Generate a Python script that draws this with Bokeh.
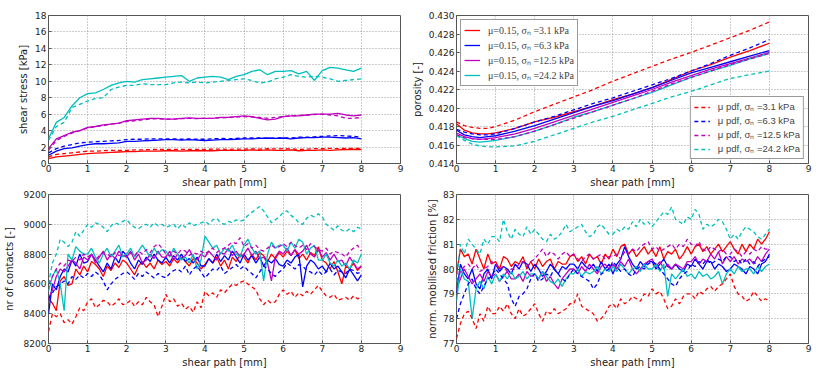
import numpy as np
from bokeh.plotting import figure
from bokeh.models import Range1d, SingleIntervalTicker, PrintfTickFormatter, Legend, LegendItem
from bokeh.layouts import gridplot
from bokeh.embed import file_html
from bokeh.resources import INLINE

# ---------------- data ----------------
sigma_labels = ["3.1", "6.3", "12.5", "24.2"]
colors = ["#ff0000", "#0000ff", "#bf00bf", "#00bfbf"]

x_stress = np.round(np.arange(0, 8.01, 0.2), 1)
stress_r = [0.6,0.8,0.9,1.0,1.1,1.2,1.25,1.3,1.35,1.4, 1.45,1.45,1.5,1.5,1.5,1.55,1.55,1.5,1.55,1.55,
            1.55,1.55,1.6,1.6,1.6,1.6,1.65,1.6,1.65,1.6, 1.6,1.65,1.55,1.6,1.6,1.65,1.6,1.65,1.7,1.7, 1.7]
stress_b = [1.0,1.5,1.8,1.9,2.1,2.3,2.4,2.4,2.45,2.5, 2.7,2.7,2.75,2.8,2.85,2.9,2.9,2.85,2.9,2.85,
            2.8,2.85,2.9,2.9,2.95,3.0,3.0,3.05,3.1,3.05, 3.1,3.0,3.1,3.15,3.15,3.2,3.2,3.15,3.1,3.15, 3.0]
stress_m = [1.8,3.0,3.4,3.8,4.0,4.4,4.5,4.7,4.8,4.9, 5.2,5.3,5.4,5.5,5.5,5.4,5.4,5.5,5.55,5.5,
            5.5,5.5,5.6,5.6,5.7,5.8,5.7,5.5,5.3,5.4, 5.7,5.8,5.8,5.9,6.0,6.0,6.0,6.1,5.9,5.8, 5.9]
stress_c = [3.0,5.0,5.6,7.0,8.0,8.5,8.6,9.0,9.5,9.8, 10.0,9.9,10.2,10.3,10.4,10.5,10.6,10.7,10.0,10.4,
            10.5,10.6,10.5,10.2,10.6,10.8,11.2,11.4,10.8,11.2, 11.2,11.3,10.9,11.2,10.1,11.3,11.7,11.6,11.4,11.2, 11.6]
stress_r_pdf = [0.8,1.1,1.2,1.3,1.4,1.5,1.5,1.55,1.6,1.6, 1.6,1.65,1.65,1.7,1.7,1.7,1.7,1.7,1.72,1.7,
                1.72,1.75,1.75,1.72,1.75,1.75,1.78,1.75,1.8,1.78, 1.8,1.78,1.7,1.75,1.8,1.8,1.85,1.8,1.85,1.85, 1.85]
stress_b_pdf = [1.3,1.8,2.1,2.3,2.5,2.6,2.65,2.7,2.75,2.8, 2.9,2.95,2.95,3.0,3.0,3.0,3.0,2.95,3.0,2.95,
                2.95,3.0,3.05,3.0,3.05,3.1,3.1,3.1,3.05,3.1, 3.1,3.1,3.2,3.2,3.25,3.3,3.35,3.4,3.35,3.3, 3.2]
stress_m_pdf = [1.6,2.8,3.3,3.7,4.0,4.3,4.5,4.6,4.8,4.9, 5.1,5.2,5.3,5.4,5.45,5.4,5.4,5.45,5.5,5.45,
                5.5,5.5,5.55,5.6,5.65,5.7,5.65,5.6,5.5,5.6, 5.7,5.8,5.85,5.9,5.95,6.0,5.9,5.8,5.5,5.5, 5.6]
stress_c_pdf = [2.8,4.5,5.0,6.8,7.2,7.6,7.9,8.0,9.0,9.3, 9.5,9.5,9.7,9.6,9.6,9.6,9.8,9.9,9.8,9.9,
                9.8,9.9,10.0,10.1,10.2,10.3,10.1,9.8,9.9,10.3, 10.5,10.8,10.6,10.5,10.6,10.5,10.3,10.0,10.1,10.2, 10.3]

x_por = [0, 0.2, 0.4, 0.6, 0.8, 1.0, 1.5, 2, 2.5, 3, 3.5, 4, 4.5, 5, 5.5, 6, 6.5, 7, 7.5, 8]
por_r = [0.4183,0.4176,0.4173,0.4172,0.4172,0.4173,0.4178,0.4185,0.4190,0.4196,0.4202,0.4209,0.4215,0.4222,0.4231,0.4240,0.4247,0.4255,0.4262,0.4270]
por_b = [0.4176,0.4171,0.4169,0.4168,0.4169,0.4170,0.4175,0.4181,0.4188,0.4195,0.4202,0.4208,0.4215,0.4222,0.4230,0.4238,0.4244,0.4250,0.4256,0.4262]
por_m = [0.4173,0.4169,0.4167,0.4166,0.4167,0.4168,0.4172,0.4178,0.4185,0.4192,0.4199,0.4206,0.4213,0.4220,0.4228,0.4235,0.4242,0.4248,0.4254,0.4260]
por_c = [0.4171,0.4167,0.4164,0.4163,0.4164,0.4165,0.4169,0.4175,0.4182,0.4190,0.4196,0.4203,0.4210,0.4217,0.4225,0.4233,0.4240,0.4246,0.4253,0.4259]
por_r_pdf = [0.4185,0.4181,0.4179,0.4178,0.4178,0.4180,0.4187,0.4196,0.4204,0.4212,0.4220,0.4229,0.4237,0.4245,0.4253,0.4260,0.4268,0.4276,0.4284,0.4293]
por_b_pdf = [0.4177,0.4174,0.4172,0.4171,0.4171,0.4172,0.4178,0.4185,0.4191,0.4198,0.4205,0.4211,0.4218,0.4225,0.4232,0.4240,0.4248,0.4257,0.4265,0.4274]
por_m_pdf = [0.4171,0.4168,0.4167,0.4166,0.4166,0.4166,0.4169,0.4175,0.4182,0.4189,0.4196,0.4203,0.4210,0.4218,0.4226,0.4233,0.4240,0.4247,0.4253,0.4259]
por_c_pdf = [0.4170,0.4165,0.4161,0.4159,0.4158,0.4158,0.4159,0.4164,0.4171,0.4178,0.4185,0.4191,0.4198,0.4205,0.4212,0.4218,0.4225,0.4232,0.4236,0.4240]

x_noisy = np.round(np.arange(0, 8.01, 0.1), 1)
cont_r = [8500,8470,8420,8620,8650,8590,8600,8700,8660,8720, 8680,8750,8730,8700,8650,8720,8690,8740,8710,8760,
          8740,8700,8660,8720,8750,8710,8740,8700,8760,8730, 8750,8720,8770,8740,8780,8750,8720,8770,8740,8700,
          8730,8770,8740,8780,8720,8760,8700,8780,8750,8800, 8780,8740,8800,8760,8810,8790,8750,8800,8770,8810,
          8780,8820,8790,8830,8770,8800,8760,8810,8790,8850, 8760,8740,8700,8750,8680,8600,8720,8700,8740,8690, 8720]
cont_b = [8400,8600,8560,8650,8700,8680,8760,8720,8800,8740, 8750,8800,8760,8720,8680,8740,8700,8780,8740,8820,
          8790,8740,8700,8760,8730,8780,8750,8800,8760,8740, 8780,8740,8790,8760,8800,8750,8770,8740,8780,8720,
          8720,8770,8740,8800,8750,8790,8760,8820,8780,8740, 8800,8760,8790,8740,8780,8720,8760,8740,8770,8730,
          8720,8760,8740,8780,8800,8580,8720,8760,8740,8700, 8720,8680,8740,8700,8720,8680,8640,8700,8660,8620, 8660]
cont_m = [8500,8560,8650,8700,8680,8720,8760,8740,8700,8780, 8760,8800,8740,8780,8820,8760,8800,8770,8820,8790,
          8780,8820,8760,8800,8740,8760,8800,8770,8820,8780, 8780,8820,8760,8800,8770,8790,8830,8780,8760,8800,
          8780,8820,8790,8760,8810,8800,8840,8790,8820,8780, 8800,8840,8790,8820,8770,8780,8740,8620,8780,8820,
          8800,8840,8790,8830,8800,8820,8860,8800,8780,8830, 8780,8810,8760,8800,8750,8760,8720,8780,8740,8700, 8720]
cont_c = [8550,8650,8700,8600,8420,8800,8760,8850,8820,8800, 8800,8840,8780,8740,8800,8840,8780,8820,8860,8780,
          8800,8840,8780,8820,8860,8820,8780,8840,8800,8830, 8820,8780,8840,8800,8760,8780,8740,8800,8700,8760,
          8920,8880,8840,8860,8800,8840,8820,8860,8800,8780, 8860,8900,8840,8800,8820,8620,8800,8880,8840,8860,
          8860,8820,8880,8840,8900,8880,8800,8840,8860,8760, 8760,8800,8740,8720,8760,8720,8740,8700,8760,8740, 8800]
cont_r_pdf = [8280,8400,8380,8400,8340,8360,8330,8380,8440,8420, 8480,8500,8440,8460,8490,8480,8450,8470,8500,8460,
              8470,8490,8450,8480,8460,8510,8480,8460,8380,8450, 8530,8480,8500,8450,8470,8430,8450,8410,8480,8440,
              8550,8520,8540,8510,8560,8540,8570,8600,8590,8610, 8620,8600,8580,8560,8500,8460,8490,8470,8480,8530,
              8560,8530,8550,8510,8540,8520,8550,8530,8560,8590, 8550,8520,8510,8530,8490,8500,8510,8490,8520,8500, 8510]
cont_b_pdf = [8500,8540,8580,8600,8620,8600,8650,8630,8660,8640, 8670,8650,8680,8660,8620,8560,8600,8630,8650,8670,
              8680,8660,8630,8670,8650,8680,8660,8640,8670,8650, 8640,8670,8690,8700,8680,8720,8660,8700,8720,8680,
              8640,8670,8700,8690,8720,8670,8690,8710,8730,8700, 8720,8690,8670,8640,8680,8720,8700,8670,8650,8680,
              8700,8740,8720,8700,8730,8720,8690,8680,8660,8690, 8660,8680,8700,8660,8690,8680,8670,8700,8690,8670, 8680]
cont_m_pdf = [8600,8650,8700,8740,8720,8760,8750,8780,8760,8800, 8780,8800,8760,8790,8810,8800,8780,8810,8790,8800,
              8780,8810,8790,8820,8800,8830,8810,8850,8870,8840, 8800,8790,8820,8800,8830,8820,8790,8810,8800,8820,
              8800,8820,8840,8810,8830,8840,8860,8880,8870,8910, 8850,8870,8840,8860,8830,8820,8840,8860,8840,8850,
              8870,8850,8880,8860,8840,8860,8830,8870,8850,8830, 8820,8840,8800,8820,8810,8800,8780,8820,8840,8860, 8820]
cont_c_pdf = [8600,8740,8800,8900,8880,8850,8880,8950,8920,8960, 9000,8980,9010,9000,8980,8950,8990,9010,9000,9020,
              9030,9000,8980,8970,8990,9000,8980,9010,8990,9000, 8980,8990,9000,8970,9000,8980,9010,8990,9000,9010,
              9020,9000,9030,9040,9010,9000,9020,9010,9030,9020, 9030,9060,9080,9100,9120,9090,9050,9010,9030,9050,
              9080,9090,9060,9040,9010,9000,9040,9060,9050,9070, 9050,9000,8980,8960,8990,8960,8950,8970,8950,8980, 8970]

fric_r = [79.8,80.8,80.5,80.6,80.2,80.8,80.4,80.0,80.6,80.2, 80.3,80.0,80.5,80.4,80.1,80.3,80.2,80.5,80.0,80.3,
          80.0,80.4,80.1,80.3,80.4,80.0,80.3,80.2,80.2,80.5, 80.6,80.3,80.5,80.2,80.6,80.4,80.5,80.2,80.6,80.4,
          80.8,80.5,80.9,81.0,80.6,80.8,80.5,80.7,80.9,80.6, 80.8,80.5,80.9,80.4,80.7,80.6,80.8,80.4,80.6,80.9,
          80.6,80.9,81.0,80.7,80.9,80.6,80.8,81.0,80.7,80.9, 81.1,80.8,80.6,81.0,80.7,81.0,80.8,81.2,81.0,81.2, 81.5]
fric_b = [79.0,80.2,79.8,79.6,80.0,79.4,79.2,79.8,80.0,79.6, 80.2,79.9,80.1,80.0,79.8,80.2,80.0,80.3,80.2,79.9,
          80.2,80.0,79.7,79.9,80.2,80.0,79.8,80.1,80.0,80.2, 80.2,80.0,80.3,80.1,80.0,80.2,79.9,80.3,80.0,80.2,
          79.8,80.2,80.4,80.9,80.5,80.2,80.0,80.3,80.1,80.3, 80.3,80.0,80.2,80.4,80.1,80.0,80.2,80.0,79.9,80.2,
          80.1,80.4,80.2,80.0,80.3,80.3,80.0,80.2,80.1,79.9, 80.0,80.2,80.1,80.0,79.8,80.1,80.0,79.8,80.2,80.3, 80.6]
fric_m = [79.2,79.6,80.0,79.7,79.4,79.6,79.8,79.5,79.9,79.7, 79.8,79.5,79.7,79.9,79.6,79.6,79.8,79.5,79.9,79.7,
          79.8,79.6,79.9,79.5,79.7,79.4,79.2,79.6,79.8,80.0, 80.0,79.8,80.1,79.9,80.2,80.0,79.8,80.1,80.2,80.0,
          80.2,80.0,80.3,80.1,80.4,80.0,79.8,80.0,80.2,80.3, 80.4,80.1,80.3,80.0,80.2,80.0,80.2,80.1,80.0,80.3,
          80.3,80.5,80.2,80.4,80.3,80.6,80.4,80.7,80.2,80.5, 80.3,80.5,80.2,80.4,80.3,80.4,80.2,80.5,80.3,80.6, 80.8]
fric_c = [78.7,80.0,79.6,79.5,78.0,79.2,79.5,79.2,79.7,79.4, 79.8,79.5,79.8,79.6,79.9,79.6,79.7,79.9,79.6,79.8,
          79.8,79.6,79.9,79.7,79.5,79.4,79.6,79.3,79.6,79.8, 79.8,80.0,79.7,79.9,79.8,79.9,80.1,79.8,80.0,79.9,
          80.1,79.9,80.2,80.0,79.8,80.0,80.1,79.9,80.2,80.0, 80.0,80.2,79.9,80.2,78.9,79.8,79.6,79.8,80.0,79.7,
          79.8,79.6,79.9,79.7,79.8,79.6,79.7,79.9,79.4,79.8, 80.0,79.8,80.1,79.9,80.0,80.0,79.8,80.1,79.9,80.1, 80.2]
fric_r_pdf = [77.2,77.8,78.2,78.3,78.0,77.6,78.2,77.9,78.5,78.2, 78.2,78.5,78.3,78.6,78.2,78.0,78.4,78.1,78.2,78.4,
              78.6,78.2,77.9,78.3,78.2,78.4,78.2,78.3,78.4,78.6, 78.6,79.0,78.5,78.4,78.3,78.2,77.9,78.0,78.2,78.5,
              78.6,78.4,78.8,78.6,78.7,78.9,78.8,78.7,79.0,78.9, 79.2,79.0,79.1,78.8,78.4,78.5,78.8,78.6,78.9,79.0,
              79.0,78.8,79.1,79.0,79.2,79.3,79.1,79.3,79.4,79.6, 79.8,79.3,79.0,78.9,78.7,78.8,79.1,78.9,78.7,78.8, 78.7]
fric_b_pdf = [78.0,78.6,79.0,79.4,79.6,79.2,79.0,79.3,79.6,79.7, 80.0,79.8,79.6,79.4,78.8,78.5,78.9,79.0,79.2,79.6,
              79.8,79.5,79.6,79.8,79.7,80.0,79.8,79.6,79.5,79.8, 80.0,79.8,79.7,79.6,79.5,79.2,79.4,79.8,79.9,80.0,
              80.3,80.1,79.9,80.0,79.8,79.7,80.0,80.1,80.0,80.2, 80.3,80.2,80.0,79.8,79.6,79.4,79.3,79.6,79.8,79.9,
              80.2,80.1,80.3,80.2,80.4,80.2,80.3,80.4,80.3,80.5, 80.5,80.3,80.4,80.2,80.4,80.2,80.3,80.1,80.3,80.4, 80.5]
fric_m_pdf = [79.5,79.9,80.1,80.2,80.0,80.2,79.9,80.0,80.1,80.3, 80.2,80.0,80.1,79.9,80.0,80.0,80.2,80.3,80.1,80.3,
              80.4,80.6,80.8,80.5,80.7,80.6,80.4,80.6,80.7,80.5, 80.6,80.4,80.3,80.5,80.6,80.4,80.5,80.6,80.4,80.5,
              80.5,80.6,80.4,80.7,80.6,80.8,80.7,80.9,81.0,81.1, 80.8,80.9,80.7,80.8,80.9,81.0,80.8,81.0,80.9,81.2,
              81.0,80.9,81.1,80.8,80.7,80.9,80.8,80.7,80.8,80.6, 80.6,80.8,80.7,80.5,80.7,80.6,80.8,80.7,80.9,80.8, 80.8]
fric_c_pdf = [79.5,81.0,80.6,81.2,81.0,80.8,80.6,81.2,81.0,81.3, 81.3,81.1,82.0,81.5,81.2,81.6,81.4,81.3,81.7,81.4,
              81.6,81.4,81.2,81.1,81.4,81.2,81.3,81.5,81.8,81.5, 81.6,81.7,81.8,81.5,81.3,81.4,81.7,81.8,81.6,81.4,
              81.4,81.6,81.5,81.7,81.6,81.9,81.7,82.0,81.8,81.9, 81.7,81.9,82.1,82.3,82.2,82.5,82.0,81.9,81.8,82.1,
              82.0,82.4,82.2,81.6,81.8,81.7,81.8,82.0,81.9,81.6, 81.2,81.4,81.2,81.5,81.7,81.6,81.5,81.3,81.2,81.4, 81.6]

# ---------------- styling helpers ----------------
FONT = "DejaVu Sans"
DASH = "4 3"
LW = 1.3


def make_fig(width, height, yr, yint, ylabel, border, label_standoff, fmt=None):
    left, right, top, bottom = border
    p = figure(width=width, height=height, x_range=Range1d(0, 9), y_range=Range1d(*yr),
               output_backend="svg", toolbar_location=None,
               min_border_left=left, min_border_right=right,
               min_border_top=top, min_border_bottom=bottom)
    p.background_fill_color = "white"
    p.border_fill_color = "white"
    p.outline_line_color = "#555555"
    p.outline_line_width = 1
    p.xaxis.ticker = SingleIntervalTicker(interval=1, num_minor_ticks=0)
    p.yaxis.ticker = SingleIntervalTicker(interval=yint, num_minor_ticks=0)
    if fmt:
        p.yaxis.formatter = PrintfTickFormatter(format=fmt)
    p.xaxis.axis_label = "shear path [mm]"
    p.yaxis.axis_label = ylabel
    for ax in (p.xaxis[0], p.yaxis[0]):
        ax.axis_line_color = None
        ax.major_tick_in = 3
        ax.major_tick_out = 0
        ax.major_tick_line_color = "#555555"
        ax.minor_tick_line_color = None
        ax.major_label_text_font = FONT
        ax.major_label_text_font_size = "9px"
        ax.major_label_text_color = "#222222"
        ax.axis_label_text_font = FONT
        ax.axis_label_text_font_size = "10px"
        ax.axis_label_text_font_style = "normal"
        ax.axis_label_text_color = "#222222"
        ax.major_label_standoff = 1
    p.xaxis.axis_label_standoff = 2
    p.yaxis.axis_label_standoff = label_standoff
    p.yaxis.major_label_standoff = 2
    for g in (p.xgrid[0], p.ygrid[0]):
        g.grid_line_color = "#999999"
        g.grid_line_dash = "1 2"
        g.grid_line_width = 1
    return p


def add_series(p, x, solid, dashed):
    rs, rd = [], []
    for ys, c in zip(solid, colors):
        rs.append(p.line(x, ys, line_color=c, line_width=LW))
    for ys, c in zip(dashed, colors):
        rd.append(p.line(x, ys, line_color=c, line_width=LW, line_dash=DASH))
    return rs, rd


# top-left: shear stress
p1 = make_fig(408, 190, (0, 18), 2, "shear stress [kPa]", (46, 8, 15, 26), 3)
add_series(p1, x_stress, [stress_r, stress_b, stress_m, stress_c],
           [stress_r_pdf, stress_b_pdf, stress_m_pdf, stress_c_pdf])

# top-right: porosity
p2 = make_fig(414, 190, (0.414, 0.430), 0.002, "porosity [-]", (46, 14, 15, 26), 3, fmt="%.3f")
rs, rd = add_series(p2, x_por, [por_r, por_b, por_m, por_c],
                    [por_r_pdf, por_b_pdf, por_m_pdf, por_c_pdf])


def style_legend(leg, font):
    leg.label_text_font = font
    leg.label_text_font_size = "10px"
    leg.label_height = 12
    leg.glyph_height = 12
    leg.glyph_width = 16
    leg.label_standoff = 8
    leg.spacing = 1
    leg.padding = 3
    leg.margin = 4
    leg.border_line_color = "#333333"
    leg.border_line_width = 1
    leg.background_fill_color = "white"
    leg.background_fill_alpha = 1.0


leg1 = Legend(items=[LegendItem(label="μ=0.15, σₙ =%s kPa" % s, renderers=[r])
                     for s, r in zip(sigma_labels, rs)], location="top_left")
style_legend(leg1, "Liberation Serif")
leg2 = Legend(items=[LegendItem(label="μ pdf, σₙ =%s kPa" % s, renderers=[r])
                     for s, r in zip(sigma_labels, rd)], location="bottom_right")
style_legend(leg2, "Liberation Sans")
leg2.label_text_font_size = "9.5px"
p2.add_layout(leg1)
p2.add_layout(leg2)

# bottom-left: contacts
p3 = make_fig(408, 183, (8200, 9200), 200, "nr of contacts [-]", (46, 8, 4, 30), 6)
add_series(p3, x_noisy, [cont_r, cont_b, cont_m, cont_c],
           [cont_r_pdf, cont_b_pdf, cont_m_pdf, cont_c_pdf])

# bottom-right: friction
p4 = make_fig(414, 183, (77, 83), 1, "norm. mobilised friction [%]", (46, 14, 4, 30), 2)
add_series(p4, x_noisy, [fric_r, fric_b, fric_m, fric_c],
           [fric_r_pdf, fric_b_pdf, fric_m_pdf, fric_c_pdf])

grid = gridplot([[p1, p2], [p3, p4]], toolbar_location=None)

open("out.html", "w").write(file_html(grid, INLINE))
